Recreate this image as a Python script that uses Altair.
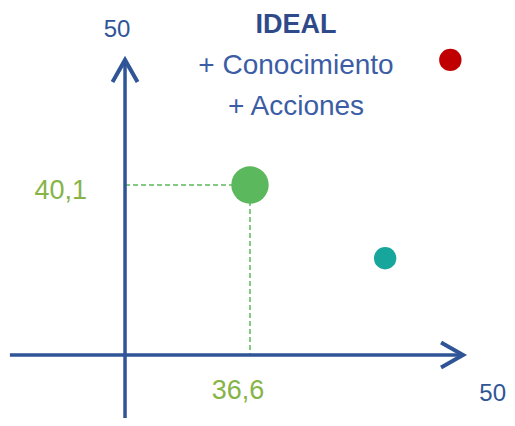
import altair as alt
import pandas as pd

# ---------------- data ----------------
point_names = ["Actual", "Ideal", "Referencia"]
point_x = [36.6, 49.2, 45.1]
point_y = [40.1, 50.0, 34.3]
axis_max = 50
title_lines = ["IDEAL", "+ Conocimiento", "+ Acciones"]

# ---------------- layout / style ----------------
W, H = 499, 410
X_DOMAIN = [21.38, 21.38 + W / 15.9]
Y_DOMAIN = [54.11 - H / 12.63, 54.11]
X_CROSS = 28.74   # value of x where the vertical axis sits
Y_CROSS = 26.64   # value of y where the horizontal axis sits
X_START = 21.5
Y_START = 20.0

AXIS_COLOR = "#2F5597"
POINT_COLORS = {"Actual": "#5CB85C", "Ideal": "#C00000", "Referencia": "#17A69C"}
POINT_SIZES = {"Actual": 1400, "Ideal": 500, "Referencia": 500}
GUIDE_COLOR = "#5CB85C"
LABEL_GREEN = "#86B447"
FONT = "Liberation Sans"

xs = alt.Scale(domain=X_DOMAIN, nice=False, zero=False)
ys = alt.Scale(domain=Y_DOMAIN, nice=False, zero=False)

def X(f="x"):
    return alt.X(f"{f}:Q", scale=xs, axis=None)

def Y(f="y"):
    return alt.Y(f"{f}:Q", scale=ys, axis=None)

pts = pd.DataFrame({"name": point_names, "x": point_x, "y": point_y})
pts["color"] = pts["name"].map(POINT_COLORS)
pts["size"] = pts["name"].map(POINT_SIZES)

gx, gy = point_x[0], point_y[0]

# axes lines
axes_df = pd.DataFrame({
    "x": [X_START, X_CROSS],
    "y": [Y_CROSS, Y_START],
    "x2": [axis_max, X_CROSS],
    "y2": [Y_CROSS, axis_max],
})
axes = alt.Chart(axes_df).mark_rule(color=AXIS_COLOR, strokeWidth=3.5).encode(
    x=X(), y=Y(), x2="x2:Q", y2="y2:Q"
)

# arrow heads
heads_df = pd.DataFrame({"x": [axis_max, X_CROSS], "y": [Y_CROSS, axis_max], "ang": [90, 0]})
heads = alt.Chart(heads_df).mark_point(
    shape="M -0.57 1 L 0 0 L 0.57 1", filled=False, strokeWidth=4,
    size=1936, color=AXIS_COLOR, opacity=1, strokeJoin="miter"
).encode(x=X(), y=Y(), angle=alt.Angle("ang:Q", scale=None))

# dashed guides
guides_df = pd.DataFrame({
    "x": [X_CROSS, gx], "y": [gy, gy], "x2": [gx, gx], "y2": [gy, Y_CROSS]
})
guides = alt.Chart(guides_df).mark_rule(
    color=GUIDE_COLOR, strokeWidth=1.5, strokeDash=[5, 3]
).encode(x=X(), y=Y(), x2="x2:Q", y2="y2:Q")

# points
points = alt.Chart(pts).mark_circle(opacity=1).encode(
    x=X(), y=Y(),
    color=alt.Color("color:N", scale=None),
    size=alt.Size("size:Q", scale=None),
)

fmt = lambda v: f"{v:.1f}".replace(".", ",")

ylab = alt.Chart(pd.DataFrame({"x": [X_CROSS], "y": [gy], "t": [fmt(gy)]})).mark_text(
    font=FONT, fontSize=27, color=LABEL_GREEN, align="right", baseline="middle", dx=-38, dy=6
).encode(x=X(), y=Y(), text="t:N")

xlab = alt.Chart(pd.DataFrame({"x": [gx], "y": [Y_CROSS], "t": [fmt(gx)]})).mark_text(
    font=FONT, fontSize=27, color=LABEL_GREEN, align="center", baseline="middle", dx=-12, dy=36
).encode(x=X(), y=Y(), text="t:N")

max_y_lab = alt.Chart(pd.DataFrame({"x": [X_CROSS], "y": [axis_max], "t": [str(axis_max)]})).mark_text(
    font=FONT, fontSize=24, color=AXIS_COLOR, align="center", baseline="middle", dx=-8, dy=-30
).encode(x=X(), y=Y(), text="t:N")

max_x_lab = alt.Chart(pd.DataFrame({"x": [axis_max], "y": [Y_CROSS], "t": [str(axis_max)]})).mark_text(
    font=FONT, fontSize=24, color=AXIS_COLOR, align="right", baseline="middle", dx=43, dy=39
).encode(x=X(), y=Y(), text="t:N")

title_layers = []
title_y = [17, 58, 99]
for i, line in enumerate(title_lines):
    title_layers.append(
        alt.Chart(pd.DataFrame({"t": [line]})).mark_text(
            font=FONT, fontSize=27 if i == 0 else 28, fontWeight="bold" if i == 0 else "normal",
            color="#2F4A8A" if i == 0 else "#3C5DA6",
            align="center", baseline="middle"
        ).encode(x=alt.value(288), y=alt.value(title_y[i]), text="t:N")
    )

chart = alt.layer(
    guides, axes, heads, points, ylab, xlab, max_y_lab, max_x_lab, *title_layers
).properties(
    width=W, height=H, padding=0,
    autosize=alt.AutoSizeParams(type="none"),
).configure_view(stroke=None)

chart.save("out.html", embed_options={"renderer": "svg", "actions": False})
